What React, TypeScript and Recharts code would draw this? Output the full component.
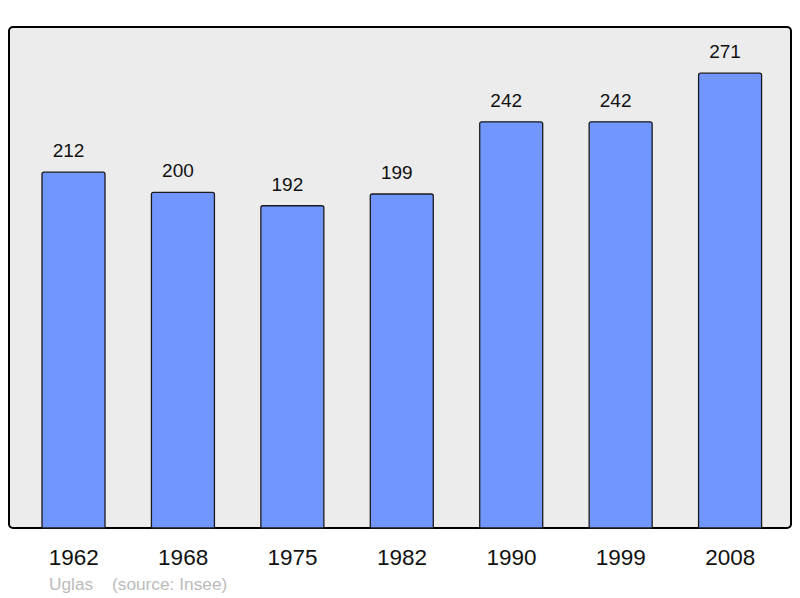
import React from 'react';
import { BarChart, Bar, XAxis, YAxis, CartesianGrid, LabelList } from 'recharts';

const years = ['1962', '1968', '1975', '1982', '1990', '1999', '2008'];
const population = [212, 200, 192, 199, 242, 242, 271];
const footerName = 'Uglas';
const footerSource = '(source: Insee)';

const data = years.map((y, i) => ({ year: y, pop: population[i] }));

const W = 800;
const H = 598;
const M = { top: 27, left: 9, right: 9, bottom: 30 };
const XH = 40;

const Frame = () => (
  <rect
    x={M.left}
    y={M.top}
    width={W - M.left - M.right}
    height={H - M.top - M.bottom - XH}
    rx={4}
    ry={4}
    fill="none"
    stroke="#000"
    strokeWidth={2}
  />
);

export default function App() {
  return (
    <div style={{ position: 'absolute', left: 0, top: 0, width: W, height: H, background: '#fff' }}>
      <BarChart width={W} height={H} data={data} margin={M}>
        <CartesianGrid fill="#ececec" horizontal={false} vertical={false} stroke="none" />
        <YAxis hide domain={[0, 298.5]} />
        <XAxis
          dataKey="year"
          axisLine={false}
          tickLine={false}
          tickSize={0}
          tickMargin={21}
          height={XH}
          padding={{ left: 10, right: 6 }}
          interval={0}
          tick={{ fill: '#111', fontSize: 22.5, fontFamily: 'Liberation Sans, Arial, sans-serif' }}
        />
        <Bar
          dataKey="pop"
          fill="#7196ff"
          stroke="#1a1a1a"
          strokeWidth={1.3}
          barSize={63}
          radius={[2, 2, 0, 0]}
          isAnimationActive={false}
        >
          <LabelList
            dataKey="pop"
            position="top"
            offset={15}
            dx={-5}
            fill="#111"
            fontSize={19}
            fontFamily="Liberation Sans, Arial, sans-serif"
          />
        </Bar>
        <Frame />
      </BarChart>
      <svg
        width={W}
        height={40}
        style={{ position: 'absolute', left: 0, top: H - 40 }}
      >
        <text x={49} y={32} fill="#bbbbbb" fontSize={17.3} fontFamily="Liberation Sans, Arial, sans-serif">
          {footerName}
        </text>
        <text x={112} y={32} fill="#bbbbbb" fontSize={17.3} fontFamily="Liberation Sans, Arial, sans-serif">
          {footerSource}
        </text>
      </svg>
    </div>
  );
}
